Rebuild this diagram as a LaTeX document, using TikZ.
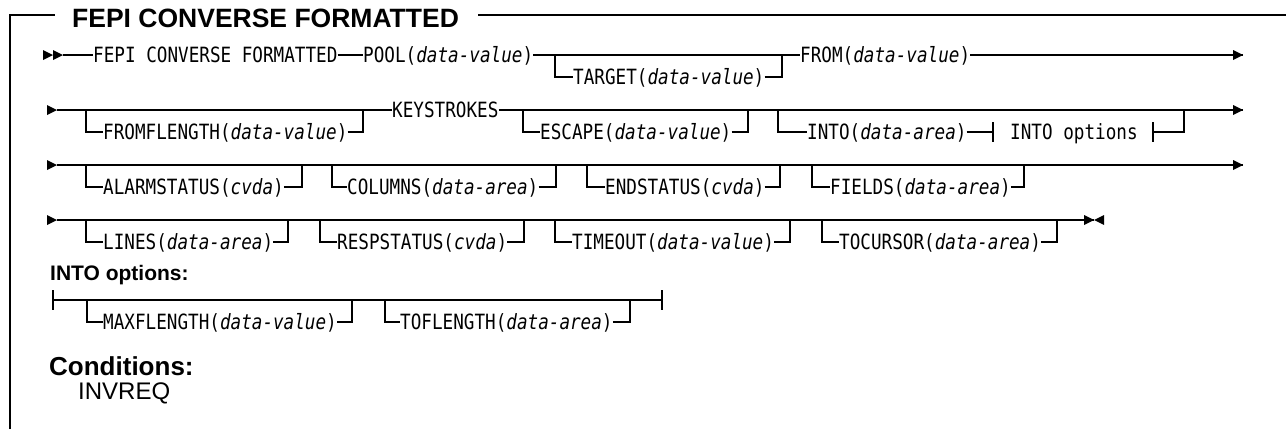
\documentclass[tikz,border=0pt]{standalone}
\usepackage{fontspec}
\setmainfont{Liberation Sans}
\newfontfamily\monof[FakeStretch=0.84]{DejaVu Sans Mono}
\newcommand\rtri[1]{\fill (#1) ++(-10,-5) -- (#1) -- ++(-10,5) -- cycle;}
\newcommand\ltri[1]{\fill (#1) ++(10,-5) -- (#1) -- ++(10,5) -- cycle;}
\newcommand\vtick[1]{\draw[rail] (#1) ++(0,-10) -- ++(0,20);}
\newcommand\optB[6]{%
  \coordinate (#1L) at (#2,#5);
  \coordinate (#1R) at (#4,#5);
  \node[kw] (#1) at (#3,#5+22) {#6};
  \draw[rail] (#1L) |- (#1.west);
  \draw[rail] (#1.east) -| (#1R);
}
\begin{document}
\begin{tikzpicture}[x=1pt,y=-1pt,
  kw/.style={font={\monof\fontsize{21}{25}\selectfont}, inner sep=0pt, text height=16.6pt, text depth=1.3pt, anchor=west},
  rail/.style={line width=1.1pt},
  frame/.style={line width=1.5pt},
  ttl/.style={font={\bfseries\fontsize{26.5}{30}\selectfont}, inner sep=0pt, anchor=base west},
  hdg/.style={font={\bfseries\fontsize{21}{24}\selectfont}, inner sep=0pt, anchor=base west},
  cnd/.style={font={\bfseries\fontsize{26}{30}\selectfont}, inner sep=0pt, anchor=base west},
  cnditem/.style={font={\fontsize{24}{28}\selectfont}, inner sep=0pt, anchor=base west}]
\useasboundingbox (0,0) rectangle (1286,429);
% frame
\node[ttl] (title) at (72,27) {FEPI CONVERSE FORMATTED};
\coordinate (fa) at (10,429); \coordinate (fb) at (10,15); \coordinate (fc) at (55,15);
\coordinate (fd) at (478,15); \coordinate (fe) at (1286,15);
\draw[frame] (fa) -- (fb) -- (fc);
\draw[frame] (fd) -- (fe);
% row 1
\coordinate (s1a) at (53,55); \coordinate (s1) at (63,55);
\rtri{s1a} \rtri{s1}
\node[kw] (fepi) at (93,55) {FEPI CONVERSE FORMATTED};
\node[kw] (pool) at (363,55) {POOL(\textit{data-value})};
\node[kw] (from) at (800,55) {FROM(\textit{data-value})};
\coordinate (e1) at (1243,55);
\draw[rail] (s1) -- (fepi.west) (fepi.east) -- (pool.west) (pool.east) -- (from.west) (from.east) -- (e1);
\rtri{e1}
\optB{tgt}{555}{573}{782}{55}{TARGET(\textit{data-value})}
% row 2
\coordinate (s2) at (57,110); \rtri{s2}
\node[kw] (kst) at (392,110) {KEYSTROKES};
\coordinate (e2) at (1243,110);
\draw[rail] (s2) -- (kst.west) (kst.east) -- (e2);
\rtri{e2}
\optB{ffl}{86}{103}{363}{110}{FROMFLENGTH(\textit{data-value})}
\optB{esc}{523}{540}{748}{110}{ESCAPE(\textit{data-value})}
\coordinate (intoL) at (778,110); \coordinate (intoR) at (1184,110);
\node[kw] (into) at (807,132) {INTO(\textit{data-area})};
\coordinate (tk1) at (993,132); \coordinate (tk2) at (1153,132);
\node[kw] (intoref) at (1010,132) {INTO options};
\draw[rail] (intoL) |- (into.west) (into.east) -- (tk1);
\vtick{tk1} \vtick{tk2}
\draw[rail] (tk2) -| (intoR);
% row 3
\coordinate (s3) at (57,165); \rtri{s3}
\coordinate (e3) at (1243,165);
\draw[rail] (s3) -- (e3);
\rtri{e3}
\optB{alm}{86}{103}{302}{165}{ALARMSTATUS(\textit{cvda})}
\optB{col}{332}{347}{556}{165}{COLUMNS(\textit{data-area})}
\optB{ends}{587}{605}{780}{165}{ENDSTATUS(\textit{cvda})}
\optB{fld}{812}{830}{1024}{165}{FIELDS(\textit{data-area})}
% row 4
\coordinate (s4) at (57,220); \rtri{s4}
\coordinate (e4) at (1094,220);
\draw[rail] (s4) -- (e4);
\rtri{e4} \ltri{e4}
\optB{lns}{86}{103}{288}{220}{LINES(\textit{data-area})}
\optB{rsp}{320}{337}{524}{220}{RESPSTATUS(\textit{cvda})}
\optB{tmo}{555}{572}{790}{220}{TIMEOUT(\textit{data-value})}
\optB{toc}{822}{839}{1057}{220}{TOCURSOR(\textit{data-area})}
% INTO options
\node[hdg] (ihead) at (50,280) {INTO options:};
\coordinate (is) at (53,300); \coordinate (ie) at (662,300);
\vtick{is} \vtick{ie}
\draw[rail] (is) -- (ie);
\optB{mxf}{87}{103}{352}{300}{MAXFLENGTH(\textit{data-value})}
\optB{tfl}{385}{400}{630}{300}{TOFLENGTH(\textit{data-area})}
% conditions
\node[cnd] (cond) at (49,375) {Conditions:};
\node[cnditem] (invreq) at (78,399) {INVREQ};
\end{tikzpicture}
\end{document}
